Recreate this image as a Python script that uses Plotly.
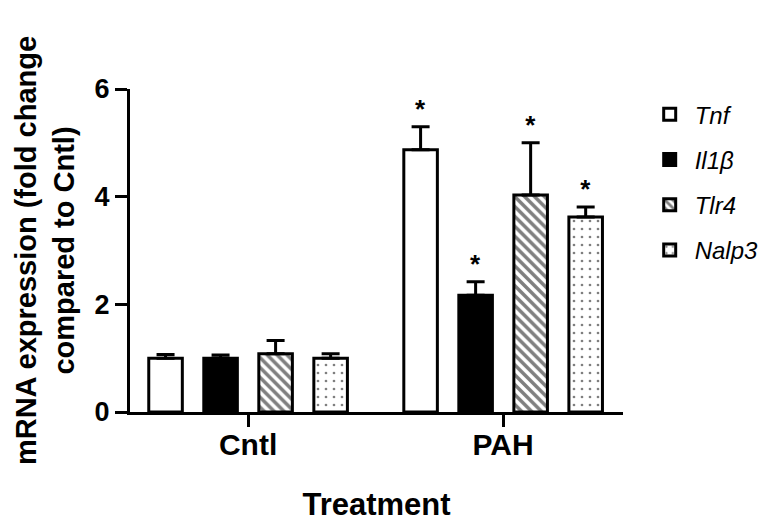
import plotly.graph_objects as go

# ========== Data ==========
treatments = ["Cntl", "PAH"]
genes = ["Tnf", "Il1β", "Tlr4", "Nalp3"]
tnf_vals = [1.0, 4.87]
tnf_err = [0.07, 0.43]
il1b_vals = [1.0, 2.17]
il1b_err = [0.06, 0.25]
tlr4_vals = [1.08, 4.03]
tlr4_err = [0.25, 0.97]
nalp3_vals = [1.0, 3.62]
nalp3_err = [0.08, 0.19]
signif = [["", "*"], ["", "*"], ["", "*"], ["", "*"]]

FONT = "Arial, Liberation Sans, sans-serif"

series = [
    (genes[0], tnf_vals, tnf_err, "white", "", 7, 0.3),
    (genes[1], il1b_vals, il1b_err, "black", "", 7, 0.3),
    (genes[2], tlr4_vals, tlr4_err, "white", "\\", 7, 0.5),
    (genes[3], nalp3_vals, nalp3_err, "white", ".", 8, 0.09),
]

fig = go.Figure()
for i, (name, vals, err, fill, shape, psize, psol) in enumerate(series):
    fig.add_trace(go.Bar(
        x=treatments, y=vals, name=f"<i>{name}</i>",
        legendgroup=name, offsetgroup=str(i),
        marker=dict(color=fill, line=dict(color="black", width=3),
                    pattern=dict(shape=shape, fgcolor="black", bgcolor=fill,
                                 size=psize, solidity=psol)),
        error_y=dict(type="data", symmetric=False, array=err,
                     arrayminus=[0] * len(err), color="black",
                     thickness=3, width=9),
    ))

# asterisks above error bars
for i, s in enumerate(series):
    vals, err = s[1], s[2]
    fig.add_trace(go.Bar(
        x=treatments, y=[v + e for v, e in zip(vals, err)],
        offsetgroup=str(i), showlegend=False, hoverinfo="skip",
        marker=dict(color="rgba(0,0,0,0)", line=dict(width=0)),
        text=signif[i], textposition="outside", cliponaxis=False,
        textfont=dict(family=FONT, size=26, color="black", weight="bold"),
    ))

# page has an 8px body margin, so margins are shifted to compensate
fig.update_layout(
    width=780, height=528,
    margin=dict(l=122, r=165, t=81, b=124),
    plot_bgcolor="white", paper_bgcolor="white",
    barmode="group", bargap=0.137, bargroupgap=0.39,
    font=dict(family=FONT, color="black"),
    showlegend=True,
    legend=dict(x=1.044, y=0.99, xanchor="left", yanchor="top",
                font=dict(family=FONT, size=24, color="black"),
                tracegroupgap=11, itemwidth=40),
    xaxis=dict(
        range=[-0.463, 1.47], showline=True, linecolor="black", linewidth=3,
        ticks="outside", ticklen=12, tickwidth=3, tickcolor="black",
        ticklabelstandoff=-8,
        tickfont=dict(family=FONT, size=30, color="black", weight="bold"),
        title=dict(text="<b>Treatment</b>", font=dict(family=FONT, size=31),
                   standoff=34),
        showgrid=False, zeroline=False,
    ),
    yaxis=dict(
        range=[0, 6], tickvals=[0, 2, 4, 6], showline=True, linecolor="black",
        linewidth=3, ticks="outside", ticklen=12, tickwidth=3, tickcolor="black",
        tickfont=dict(family=FONT, size=27, color="black", weight="bold"),
        title=dict(text="<b>mRNA expression (fold change<br>compared to Cntl)</b>",
                   font=dict(family=FONT, size=29), standoff=12),
        showgrid=False, zeroline=False,
    ),
)

fig.write_html("out.html")
